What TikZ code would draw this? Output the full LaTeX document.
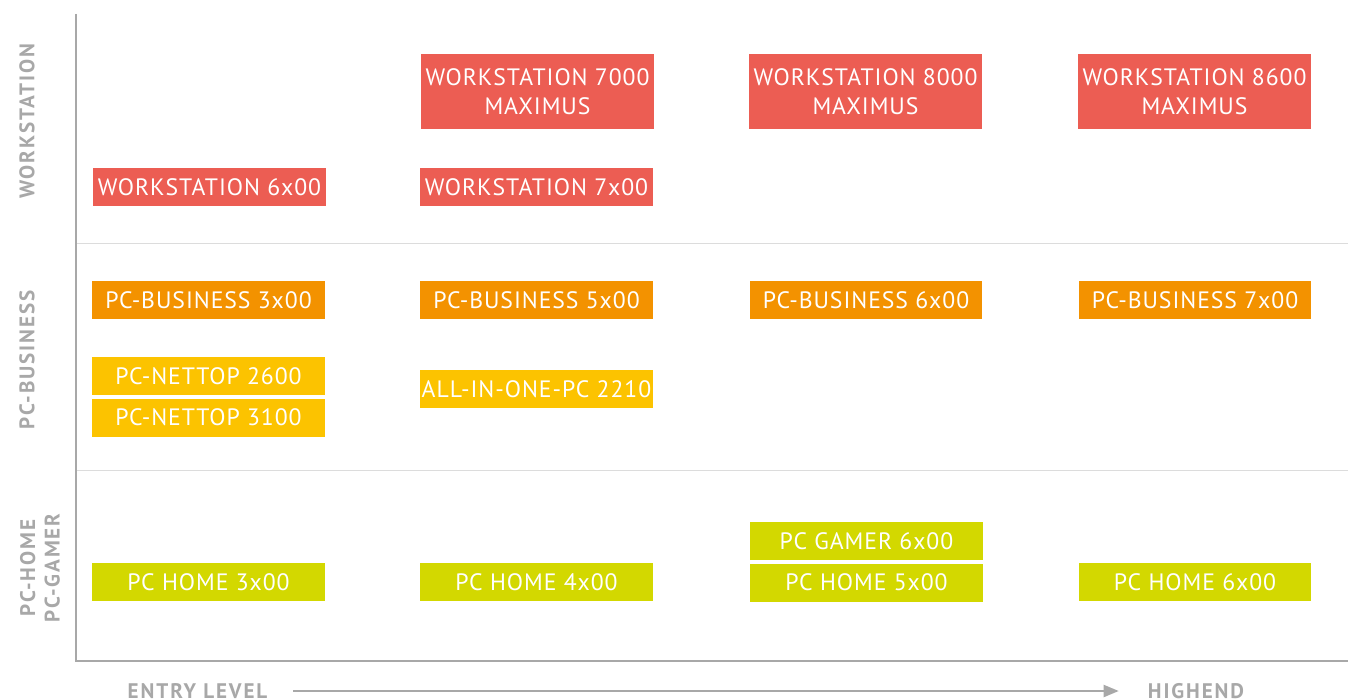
\documentclass[tikz,border=0pt]{standalone}
\usepackage{fontspec}
\setmainfont{PT Sans}
\usetikzlibrary{
  positioning,
  arrows.meta
}
\definecolor{wsred}{HTML}{EC5D53}
\definecolor{bizorange}{HTML}{F39200}
\definecolor{nettopyellow}{HTML}{FCC300}
\definecolor{homelime}{HTML}{D3D800}
\definecolor{axisgray}{HTML}{A8A8A8}
\definecolor{sepgray}{HTML}{DCDCDC}

\begin{document}
\begin{tikzpicture}[
    x=0.02cm, y=-0.02cm,
    font=\fontsize{13.5}{16.5}\selectfont\addfontfeatures{LetterSpace=4},
    product/.style={
      text=white,
      align=center,
      minimum width=4.66cm,
      minimum height=0.76cm,
      inner sep=0pt
    },
    tall/.style={
      product,
      minimum height=1.5cm
    },
    ws/.style={product, fill=wsred},
    wstall/.style={tall, fill=wsred},
    biz/.style={product, fill=bizorange},
    nettop/.style={product, fill=nettopyellow},
    home/.style={product, fill=homelime},
    category/.style={
      text=axisgray,
      rotate=90,
      align=center,
      font=\fontsize{12}{14}\selectfont\bfseries\addfontfeatures{LetterSpace=9}
    },
    level/.style={
      text=axisgray,
      font=\fontsize{12}{14}\selectfont\bfseries\addfontfeatures{LetterSpace=9}
    },
    axis/.style={draw=axisgray, line width=0.04cm},
    separator/.style={draw=sepgray, line width=0.02cm},
    timeline/.style={
      draw=axisgray,
      line width=0.04cm,
      -{Triangle[length=0.3cm,width=0.24cm]}
    }
  ]
  \newcommand{\boxSep}{0.06cm}

  \useasboundingbox[fill=white] (0,0) rectangle (1348,699);

  % Axes
  \coordinate (ytop) at (76,14);
  \coordinate (xend) at (1348,661);
  \coordinate (sepA) at (76,243);
  \coordinate (sepAend) at (1348,243);
  \coordinate (sepB) at (76,470);
  \coordinate (sepBend) at (1348,470);
  \draw[separator] (sepA) -- (sepAend);
  \draw[separator] (sepB) -- (sepBend);
  \draw[axis] (ytop) |- (xend);

  % Categories
  \node[category] (catws) at (27,121) {WORKSTATION};
  \node[category] (catbiz) at (27,360) {PC-BUSINESS};
  \node[category] (cathome) at (40,568) {PC-HOME\\PC-GAMER};

  % Workstation
  \node[wstall] (ws7000) at (537.5,91.5) {WORKSTATION 7000\\MAXIMUS};
  \node[wstall] (ws8000) at (865.5,91.5) {WORKSTATION 8000\\MAXIMUS};
  \node[wstall] (ws8600) at (1194.5,91.5) {WORKSTATION 8600\\MAXIMUS};
  \node[ws] (ws6x00) at (209.5,187) {WORKSTATION 6x00};
  \node[ws] (ws7x00) at (536.5,187) {WORKSTATION 7x00};

  % PC-Business
  \node[biz] (biz3x00) at (208.5,300) {PC-BUSINESS 3x00};
  \node[biz] (biz5x00) at (536.5,300) {PC-BUSINESS 5x00};
  \node[biz] (biz6x00) at (866,300) {PC-BUSINESS 6x00};
  \node[biz] (biz7x00) at (1195,300) {PC-BUSINESS 7x00};
  \node[nettop] (nettop2600) at (208.5,376) {PC-NETTOP 2600};
  \node[nettop, below=\boxSep of nettop2600] (nettop3100) {PC-NETTOP 3100};
  \node[nettop] (aio2210) at (536.5,389) {ALL-IN-ONE-PC 2210};

  % PC-Home / PC-Gamer
  \node[home] (home3x00) at (208.5,582) {PC HOME 3x00};
  \node[home] (home4x00) at (536.5,582) {PC HOME 4x00};
  \node[home] (home5x00) at (866.5,582.5) {PC HOME 5x00};
  \node[home, above=\boxSep of home5x00] (gamer6x00) {PC GAMER 6x00};
  \node[home] (home6x00) at (1195,582) {PC HOME 6x00};

  % Level axis
  \node[level] (entry) at (197.5,691) {ENTRY LEVEL};
  \node[level] (highend) at (1196,691) {HIGHEND};
  \draw[timeline, shorten <=0.4cm, shorten >=0.46cm] (entry.east) -- (highend.west);
\end{tikzpicture}
\end{document}
